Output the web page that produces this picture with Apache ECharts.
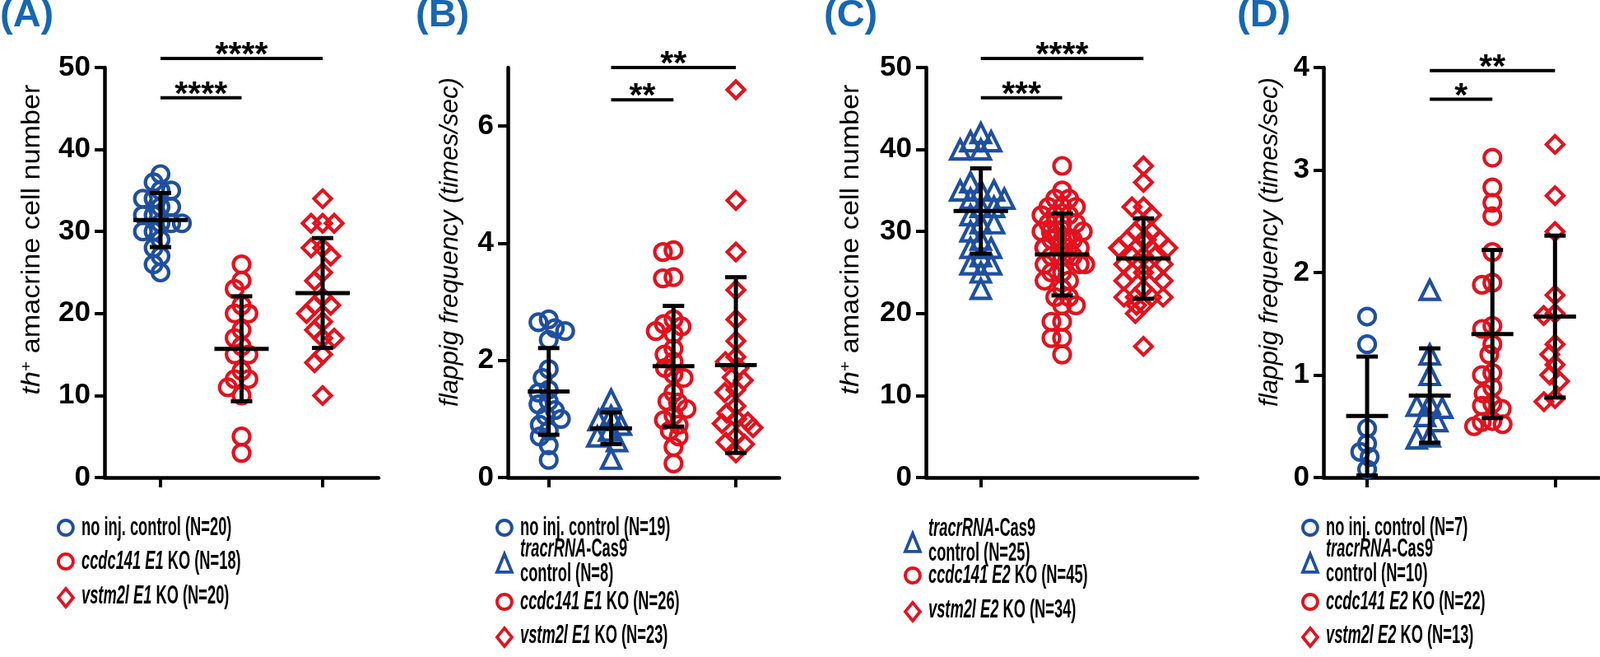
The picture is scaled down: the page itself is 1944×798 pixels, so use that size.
<!DOCTYPE html>
<html><head><meta charset="utf-8">
<script src="https://cdn.jsdelivr.net/npm/echarts@6/dist/echarts.min.js"></script>
<style>html,body{margin:0;padding:0;background:#fff}#c{width:1944px;height:798px}</style>
</head><body><div id="c"></div>
<script>
// ================= DATA =================
// Panel A : th+ amacrine cell number
const catsA = ['no inj. control (N=20)', 'ccdc141 E1 KO (N=18)', 'vstm2l E1 KO (N=20)'];
const ptsA_noInj   = [37, 36, 35, 35, 34, 34, 33, 33, 32, 32, 31, 31, 31, 30, 30, 29, 28, 27, 26, 25];
const ptsA_ccdc141 = [26, 24, 23, 21, 20, 20, 18, 17, 16, 15, 15, 13, 12, 12, 11, 10, 5, 3];
const ptsA_vstm2l  = [34, 31, 31, 31, 28, 28, 27, 25, 24, 22, 21, 21, 20, 19, 18, 17, 17, 15, 14, 10];
const meanA = [31.4, 15.7, 22.5];
const sdA   = [3.3, 6.4, 6.7];
const sigPairsA = [[0, 2], [0, 1]];
const sigLevelA = [51.1, 46.3];
const sigTextA  = ['****', '****'];
const yTicksA = [0, 10, 20, 30, 40, 50];

// Panel B : flapping frequency
const catsB = ['no inj. control (N=19)', 'tracrRNA-Cas9 control (N=8)', 'ccdc141 E1 KO (N=26)', 'vstm2l E1 KO (N=23)'];
const ptsB_noInj   = [2.7, 2.65, 2.55, 2.5, 2.35, 1.85, 1.7, 1.5, 1.45, 1.3, 1.25, 1.15, 1.05, 1.0, 0.9, 0.8, 0.7, 0.55, 0.3];
const ptsB_tracr   = [1.33, 1.05, 0.98, 0.9, 0.8, 0.7, 0.62, 0.32];
const ptsB_ccdc141 = [3.88, 3.85, 3.42, 3.4, 2.7, 2.62, 2.58, 2.5, 2.45, 2.2, 2.1, 1.98, 1.87, 1.76, 1.7, 1.45, 1.3, 1.28, 1.17, 1.06, 0.98, 0.9, 0.8, 0.7, 0.52, 0.24];
const ptsB_vstm2l  = [6.62, 4.73, 3.85, 3.2, 2.7, 2.33, 2.06, 1.98, 1.87, 1.71, 1.66, 1.5, 1.45, 1.22, 1.1, 1.0, 0.95, 0.92, 0.85, 0.7, 0.6, 0.57, 0.42];
const meanB = [1.47, 0.84, 1.90, 1.92];
const sdB   = [0.74, 0.27, 1.03, 1.50];
const sigPairsB = [[1, 3], [1, 2]];
const sigLevelB = [7.0, 6.45];
const sigTextB  = ['**', '**'];
const yTicksB = [0, 2, 4, 6];

// Panel C : th+ amacrine cell number (E2)
const catsC = ['tracrRNA-Cas9 control (N=25)', 'ccdc141 E2 KO (N=45)', 'vstm2l E2 KO (N=34)'];
const ptsC_tracr   = [42, 41, 41, 40, 40, 35, 36, 35, 35, 34, 34, 33, 33, 32, 31, 31, 30, 29, 28, 28, 27, 26, 26, 25, 23];
const ptsC_ccdc141 = [38, 35, 34, 34, 33, 33, 33, 32, 32, 32, 31, 31, 31, 30, 30, 30, 30, 29, 29, 29, 29, 28, 28, 28, 28, 27, 27, 27, 26, 26, 26, 25, 25, 24, 24, 23, 22, 22, 21, 21, 19, 19, 17, 17, 15];
const ptsC_vstm2l  = [38, 36, 33, 33, 32, 31, 30, 30, 29, 29, 29, 29, 28, 28, 28, 27, 27, 27, 26, 26, 25, 25, 25, 24, 24, 23, 22, 22, 22, 22, 21, 21, 20, 16];
const meanC = [32.5, 27.2, 26.7];
const sdC   = [5.2, 5.0, 4.9];
const sigPairsC = [[0, 2], [0, 1]];
const sigLevelC = [51.1, 46.3];
const sigTextC  = ['****', '***'];
const yTicksC = [0, 10, 20, 30, 40, 50];

// Panel D : flapping frequency (E2)
const catsD = ['no inj. control (N=7)', 'tracrRNA-Cas9 control (N=10)', 'ccdc141 E2 KO (N=22)', 'vstm2l E2 KO (N=13)'];
const ptsD_noInj   = [1.57, 1.3, 0.48, 0.33, 0.25, 0.2, 0.08];
const ptsD_tracr   = [1.83, 1.2, 1.0, 0.72, 0.7, 0.68, 0.6, 0.55, 0.4, 0.38];
const ptsD_ccdc141 = [3.12, 2.83, 2.68, 2.55, 2.2, 1.9, 1.88, 1.48, 1.45, 1.3, 1.2, 1.02, 1.0, 0.88, 0.82, 0.72, 0.7, 0.67, 0.55, 0.54, 0.52, 0.5];
const ptsD_vstm2l  = [3.25, 2.75, 2.4, 1.78, 1.6, 1.58, 1.3, 1.2, 1.1, 1.0, 0.94, 0.77, 0.74];
const meanD = [0.60, 0.80, 1.40, 1.57];
const sdD   = [0.58, 0.46, 0.82, 0.79];
const sigPairsD = [[1, 3], [1, 2]];
const sigLevelD = [3.97, 3.69];
const sigTextD  = ['**', '*'];
const yTicksD = [0, 1, 2, 3, 4];

// Legend labels (rich text: {i|...} = italic)
const legendA = ['no inj. control (N=20)', '{i|ccdc141 E1} KO (N=18)', '{i|vstm2l E1} KO (N=20)'];
const legendB = ['no inj. control (N=19)', '{i|tracrRNA}-Cas9\ncontrol (N=8)', '{i|ccdc141 E1} KO (N=26)', '{i|vstm2l E1} KO (N=23)'];
const legendC = ['{i|tracrRNA}-Cas9\ncontrol (N=25)', '{i|ccdc141 E2} KO (N=45)', '{i|vstm2l E2} KO (N=34)'];
const legendD = ['no inj. control (N=7)', '{i|tracrRNA}-Cas9\ncontrol (N=10)', '{i|ccdc141 E2} KO (N=22)', '{i|vstm2l E2} KO (N=13)'];

const panelLabels = ['(A)', '(B)', '(C)', '(D)'];
const titleTH = '{i|th}{s|+} amacrine cell number';
const titleFlap = 'flappig frequency (times/sec)';

// ================= STYLE / LAYOUT =================
const FF = '"Liberation Sans", Arial, Helvetica, sans-serif';
const BLUE = '#1f4f9f', RED = '#e3121e', LABEL_BLUE = '#1767b1';
const GRID_TOP = 82, GRID_H = 498;
const SYM = { circle: 20, triangle: 23, diamond: 21 };

const panels = [
  { cats: catsA, groups: [[ptsA_noInj, 'circle', BLUE], [ptsA_ccdc141, 'circle', RED], [ptsA_vstm2l, 'diamond', RED]],
    mean: meanA, sd: sdA, sigPairs: sigPairsA, sigLevel: sigLevelA, sigText: sigTextA, yMax: 50, yStep: 10, yTicks: yTicksA,
    legend: legendA, title: 'th' },
  { cats: catsB, groups: [[ptsB_noInj, 'circle', BLUE], [ptsB_tracr, 'triangle', BLUE], [ptsB_ccdc141, 'circle', RED], [ptsB_vstm2l, 'diamond', RED]],
    mean: meanB, sd: sdB, sigPairs: sigPairsB, sigLevel: sigLevelB, sigText: sigTextB, yMax: 7, yStep: 2, yTicks: yTicksB,
    legend: legendB, title: 'flap' },
  { cats: catsC, groups: [[ptsC_tracr, 'triangle', BLUE], [ptsC_ccdc141, 'circle', RED], [ptsC_vstm2l, 'diamond', RED]],
    mean: meanC, sd: sdC, sigPairs: sigPairsC, sigLevel: sigLevelC, sigText: sigTextC, yMax: 50, yStep: 10, yTicks: yTicksC,
    legend: legendC, title: 'th' },
  { cats: catsD, groups: [[ptsD_noInj, 'circle', BLUE], [ptsD_tracr, 'triangle', BLUE], [ptsD_ccdc141, 'circle', RED], [ptsD_vstm2l, 'diamond', RED]],
    mean: meanD, sd: sdD, sigPairs: sigPairsD, sigLevel: sigLevelD, sigText: sigTextD, yMax: 4, yStep: 1, yTicks: yTicksD,
    legend: legendD, title: 'flap' }
];

const layout = [
  { frameLeft: 127, frameRight: 460, dataLeft: 145.75, dataWidth: 295.5, jitter: 58, titleX: 39, titleY: 291, titleLen: 377, labelX: 0, iconX: 78, textX: 99, rows: [641, 682, 724] },
  { frameLeft: 617, frameRight: 947, dataLeft: 628.8, dataWidth: 303.2, jitter: 46, titleX: 547, titleY: 294, titleLen: 400, labelX: 505, iconX: 611, textX: 632, rows: [641, 682, 731, 772] },
  { frameLeft: 1125, frameRight: 1455, dataLeft: 1142.3, dataWidth: 296.4, jitter: 62, titleX: 1034, titleY: 291, titleLen: 377, labelX: 1001, iconX: 1107, textX: 1128, rows: [657, 699, 741] },
  { frameLeft: 1608, frameRight: 1943, dataLeft: 1623, dataWidth: 304.4, jitter: 46, titleX: 1543, titleY: 294, titleLen: 400, labelX: 1503, iconX: 1590, textX: 1611, rows: [641, 682, 731, 772] }
];

function textWidth(parts) {
  const ctx = document.createElement('canvas').getContext('2d');
  let w = 0;
  parts.forEach(([font, s]) => { ctx.font = font; w += ctx.measureText(s).width; });
  return w;
}
const TH_FS = 31, FLAP_FS = 31;
const wTH = textWidth([['italic ' + TH_FS + 'px ' + FF, 'th'], ['19px ' + FF, '+'], [TH_FS + 'px ' + FF, ' amacrine cell number']]);
const wFLAP = textWidth([['italic ' + FLAP_FS + 'px ' + FF, titleFlap]]);

const grids = [], xAxes = [], yAxes = [], series = [], legends = [], graphics = [];
const LEG_FS = 31, LEG_LH = 30, LEG_SCALE = 0.59, ICON_W = 18, ICON_H = 22;

panels.forEach((p, k) => {
  const L = layout[k];
  const fi = 2 * k, di = 2 * k + 1;
  grids.push({ left: L.frameLeft, top: GRID_TOP, width: L.frameRight - L.frameLeft, height: GRID_H, outerBoundsMode: 'none' });
  grids.push({ left: L.dataLeft, top: GRID_TOP, width: L.dataWidth, height: GRID_H, outerBoundsMode: 'none' });
  xAxes.push({ gridIndex: fi, type: 'value', min: 0, max: 1,
    axisLine: { show: true, onZero: false, lineStyle: { color: '#000', width: 4.5 } },
    axisTick: { show: false }, axisLabel: { show: false }, splitLine: { show: false } });
  yAxes.push({ gridIndex: fi, type: 'value', min: 0, max: p.yMax, interval: p.yStep,
    axisLine: { show: true, onZero: false, lineStyle: { color: '#000', width: 4.5 } },
    axisTick: { show: true, length: 12, lineStyle: { color: '#000', width: 4 }, customValues: p.yTicks },
    axisLabel: { show: true, customValues: p.yTicks, margin: 17, color: '#000', fontSize: 35, fontWeight: 'bold', fontFamily: FF },
    splitLine: { show: false } });
  xAxes.push({ gridIndex: di, type: 'category', data: p.cats, boundaryGap: true,
    axisLine: { show: false },
    axisTick: { show: true, alignWithLabel: true, length: 12, lineStyle: { color: '#000', width: 4 } },
    axisLabel: { show: false }, splitLine: { show: false },
    jitter: L.jitter, jitterOverlap: false, jitterMargin: -7 });
  yAxes.push({ gridIndex: di, type: 'value', min: 0, max: p.yMax, show: false });

  p.groups.forEach((g, gi) => {
    const [vals, sym, col] = g;
    series.push({
      type: 'scatter', name: p.cats[gi], xAxisIndex: di, yAxisIndex: di,
      data: vals.map(v => [gi, v]), symbol: sym, symbolSize: SYM[sym],
      itemStyle: { color: 'rgba(0,0,0,0)', borderColor: col, borderWidth: 4.2, opacity: 1 },
      emphasis: { disabled: true }, z: 2, animation: false
    });
    // legend symbol (one legend per entry for exact placement)
    legends.push({
      data: [{ name: p.cats[gi], icon: sym, itemStyle: { color: 'rgba(0,0,0,0)', borderColor: col, borderWidth: 3.8 } }],
      left: L.iconX - ICON_W / 2, top: L.rows[gi] - ICON_H / 2, padding: 0, orient: 'vertical',
      itemWidth: ICON_W, itemHeight: ICON_H, selectedMode: false,
      formatter: () => '', textStyle: { fontSize: 1 }
    });
    // legend label: condensed bold text like the original
    graphics.push({ type: 'text', x: L.textX, y: L.rows[gi], scaleX: LEG_SCALE, scaleY: 1, z: 10,
      style: { text: p.legend[gi], fill: '#000', fontSize: LEG_FS, fontWeight: 'bold', fontFamily: FF, lineHeight: LEG_LH,
        align: 'left', verticalAlign: 'middle',
        rich: { i: { fontStyle: 'italic', fontWeight: 'bold', fontSize: LEG_FS, fontFamily: FF, lineHeight: LEG_LH, fill: '#000' } } } });
  });

  // mean +/- SD
  series.push({
    type: 'custom', xAxisIndex: di, yAxisIndex: di, z: 4, silent: true, animation: false,
    data: p.mean.map((m, i) => [i, m, p.sd[i]]),
    renderItem: (params, api) => {
      const i = api.value(0), m = api.value(1), s = api.value(2);
      const c = api.coord([i, m]), t = api.coord([i, m + s]), b = api.coord([i, m - s]);
      const band = api.size([1, 0])[0];
      const hw = band * 0.335, cap = 13;
      const st = { stroke: '#000', lineWidth: 5 };
      return { type: 'group', children: [
        { type: 'line', shape: { x1: c[0] - hw, y1: c[1], x2: c[0] + hw, y2: c[1] }, style: st },
        { type: 'line', shape: { x1: c[0], y1: t[1], x2: c[0], y2: b[1] }, style: st },
        { type: 'line', shape: { x1: c[0] - cap, y1: t[1], x2: c[0] + cap, y2: t[1] }, style: st },
        { type: 'line', shape: { x1: c[0] - cap, y1: b[1], x2: c[0] + cap, y2: b[1] }, style: st }
      ] };
    }
  });

  // significance bars
  series.push({
    type: 'custom', xAxisIndex: di, yAxisIndex: di, z: 4, silent: true, animation: false, clip: false,
    data: p.sigPairs.map((pr, i) => [pr[0], p.sigLevel[i], pr[1]]),
    renderItem: (params, api) => {
      const y = api.value(1);
      const p1 = api.coord([api.value(0), y]);
      const p2 = api.coord([p.sigPairs[params.dataIndex][1], y]);
      return { type: 'group', children: [
        { type: 'line', shape: { x1: p1[0], y1: p1[1], x2: p2[0], y2: p2[1] }, style: { stroke: '#000', lineWidth: 4 } },
        { type: 'text', x: (p1[0] + p2[0]) / 2, y: p1[1] - 3,
          style: { text: p.sigText[params.dataIndex], fill: '#000', fontSize: 41, fontWeight: 'bold', fontFamily: FF, align: 'center', verticalAlign: 'middle' } }
      ] };
    }
  });

  // panel label
  graphics.push({ type: 'text', x: L.labelX, y: -4, z: 10,
    style: { text: panelLabels[k], fill: LABEL_BLUE, fontSize: 47, fontWeight: 'bold', fontFamily: FF, align: 'left', verticalAlign: 'top' } });
  // y-axis title (condensed like the original)
  if (p.title === 'th') {
    graphics.push({ type: 'text', x: L.titleX, y: L.titleY, rotation: Math.PI / 2, scaleX: L.titleLen / wTH, scaleY: 1, z: 10,
      style: { text: titleTH, fill: '#000', fontSize: TH_FS, fontFamily: FF, align: 'center', verticalAlign: 'middle',
        rich: { i: { fontStyle: 'italic', fontSize: TH_FS, fontFamily: FF, fill: '#000' },
                s: { fontSize: 19, fontFamily: FF, verticalAlign: 'top', fill: '#000' } } } });
  } else {
    graphics.push({ type: 'text', x: L.titleX, y: L.titleY, rotation: Math.PI / 2, scaleX: L.titleLen / wFLAP, scaleY: 1, z: 10,
      style: { text: titleFlap, fill: '#000', fontSize: FLAP_FS, fontStyle: 'italic', fontFamily: FF, align: 'center', verticalAlign: 'middle' } });
  }
});

const chart = echarts.init(document.getElementById('c'), null, { renderer: 'canvas' });
chart.setOption({
  animation: false,
  backgroundColor: '#fff',
  grid: grids, xAxis: xAxes, yAxis: yAxes, series: series, legend: legends,
  graphic: graphics
});
</script></body></html>
